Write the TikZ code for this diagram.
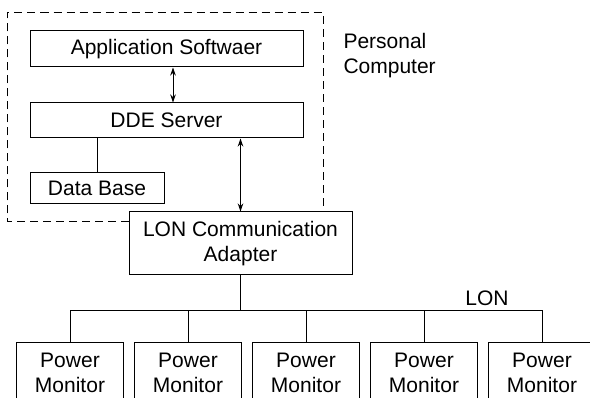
\documentclass[tikz,border=0pt]{standalone}
\usepackage{fontspec}
\setmainfont{Liberation Sans}
\usetikzlibrary{arrows.meta}
\begin{document}
\begin{tikzpicture}[x=1pt,y=-1pt,
  every node/.style={font=\fontsize{21}{25}\selectfont},
  box/.style={draw,line width=1pt,inner sep=0pt,align=center},
  pmbox/.style={box,minimum width=107pt,minimum height=60pt,anchor=north west},
  link/.style={line width=1pt},
  dlink/.style={line width=1pt,{Stealth[length=8pt,width=5.5pt]}-{Stealth[length=8pt,width=5.5pt]}},
  frame/.style={line width=1pt,dash pattern=on 8pt off 5pt}]
\clip (0,0) rectangle (590,398);
\fill[white] (0,0) rectangle (590,398);
% nodes
\node[box,minimum width=273pt,minimum height=36pt] (app) at (166.5,49) {Application Softwaer};
\node[box,minimum width=273pt,minimum height=35pt] (dde) at (166.5,120.5) {DDE Server};
\node[box,minimum width=134pt,minimum height=31pt] (db) at (97,188.5) {Data Base};
\node[box,minimum width=223pt,minimum height=63pt] (lon) at (240.5,243.5) {LON Communication\\Adapter};
\node[anchor=west,align=left] (pc) at (340,55.5) {Personal\\Computer};
\node (lonlbl) at (487,298) {LON};
\node[pmbox] (pm1) at (16,342) {Power\\Monitor};
\node[pmbox] (pm2) at (134,342) {Power\\Monitor};
\node[pmbox] (pm3) at (252,342) {Power\\Monitor};
\node[pmbox] (pm4) at (370,342) {Power\\Monitor};
\node[pmbox] (pm5) at (488,342) {Power\\Monitor};
% connectors
\draw[dlink] ([xshift=6.5pt]app.south) -- ([xshift=6.5pt]dde.north);
\draw[dlink] (dde.south -| lon.north) -- (lon.north);
\draw[link] (db.north) -- (db.north |- dde.south);
\coordinate (bus) at (0,311);
\draw[link] (lon.south) -- (lon.south |- bus);
\draw[link] (pm1.north) -- (pm1.north |- bus) -- (pm5.north |- bus) -- (pm5.north);
\foreach \i in {2,3,4} \draw[link] (pm\i.north) -- (pm\i.north |- bus);
% dashed frame of the personal computer
\coordinate (f1) at (lon.west |- 0,222);
\coordinate (f2) at (7,222);
\coordinate (f3) at (7,13);
\coordinate (f4) at (323,13);
\coordinate (f5) at (323,0 |- lon.north);
\draw[frame] (f1) -- (f2) -- (f3) -- (f4) -- (f5);
\end{tikzpicture}
\end{document}
